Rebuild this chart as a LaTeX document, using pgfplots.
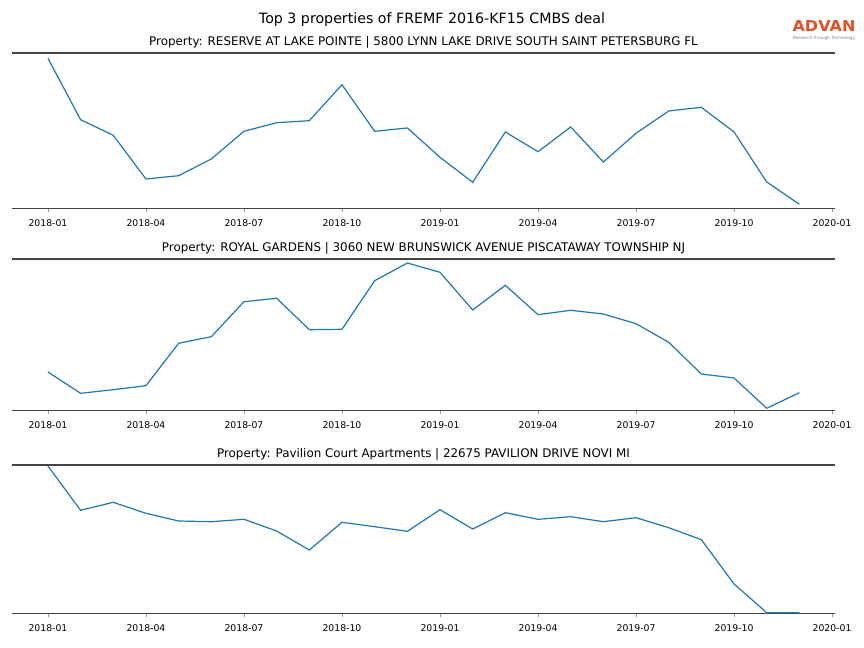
\documentclass[border=0pt]{standalone}
\usepackage{fontspec}
\setmainfont{DejaVu Sans}
\usepackage{pgfplots}
\pgfplotsset{compat=1.18}

\definecolor{mplblue}{HTML}{1F77B4}
\definecolor{spine}{RGB}{68,68,68}
\definecolor{advan}{RGB}{226,82,40}

\pgfplotsset{
  panel/.style={
    scale only axis,
    width=823bp,
    anchor=south west,
    xmin=-1.1, xmax=24.09,
    ymin=0,
    separate axis lines,
    y axis line style={draw=none},
    x axis line style={draw=spine, line width=1.5bp},
    ytick=\empty,
    xtick={0,3,...,24},
    xticklabels={2018-01,2018-04,2018-07,2018-10,2019-01,2019-04,2019-07,2019-10,2020-01},
    xtick pos=bottom,
    tick align=outside,
    major tick length=3.5bp,
    tick style={draw=gray!80, line width=0.6bp},
    xticklabel style={font=\fontsize{9.3bp}{11bp}\selectfont, yshift=-3.5bp},
    every axis title/.style={font=\fontsize{11.9bp}{14bp}\selectfont, at={(0.5,1)}, anchor=base, inner sep=0pt, yshift=7.5bp},
    /pgf/number format/assume math mode=true,
    clip=false,
  },
  series/.style={mplblue, line width=1.2bp, mark=none},
}

\begin{document}
\begin{tikzpicture}
\useasboundingbox (0,0) rectangle (864bp,648bp);

\node[anchor=base, font=\fontsize{14.2bp}{17bp}\selectfont] at (432bp,624bp)
  {Top 3 properties of FREMF 2016-KF15 CMBS deal};

\node[advan, font=\fontsize{15bp}{17bp}\selectfont\bfseries, xscale=1.07, inner sep=0pt] at (824bp,621.7bp) {ADVAN};
\node[gray, font=\fontsize{4.2bp}{5bp}\selectfont, inner sep=0pt] at (824bp,610bp) {Research through Technology};

% panel 1
\begin{axis}[panel, at={(12bp,439.3bp)}, height=155.7bp, ymax=155.7,
  title={Property: RESERVE AT LAKE POINTE | 5800 LYNN LAKE DRIVE SOUTH SAINT PETERSBURG FL}]
\addplot[series] coordinates {
(0,150.4) (1,89.0) (2,73.4) (3,29.7) (4,33.0) (5,49.7) (6,77.4) (7,86.0)
(8,88.0) (9,124.0) (10,77.4) (11,80.7) (12,51.4) (13,26.4) (14,76.7) (15,57.0)
(16,81.7) (17,46.7) (18,75.4) (19,97.7) (20,101.4) (21,76.7) (22,26.7) (23,4.4)};
\end{axis}

% panel 2
\begin{axis}[panel, at={(12bp,237.3bp)}, height=151.7bp, ymax=151.7,
  title={Property: ROYAL GARDENS | 3060 NEW BRUNSWICK AVENUE PISCATAWAY TOWNSHIP NJ}]
\addplot[series] coordinates {
(0,38.7) (1,17.4) (2,21.0) (3,25.0) (4,67.4) (5,74.0) (6,109.0) (7,112.4)
(8,81.0) (9,81.4) (10,130.0) (11,147.7) (12,138.4) (13,100.7) (14,125.4) (15,96.0)
(16,100.4) (17,96.7) (18,87.0) (19,68.4) (20,36.7) (21,32.7) (22,2.4) (23,18.0)};
\end{axis}

% panel 3
\begin{axis}[panel, at={(12bp,34.3bp)}, height=148.7bp, ymax=148.7,
  title={Property: Pavilion Court Apartments | 22675 PAVILION DRIVE NOVI MI}]
\addplot[series] coordinates {
(0,147.7) (1,103.4) (2,111.4) (3,100.4) (4,92.7) (5,92.0) (6,94.4) (7,82.7)
(8,63.7) (9,91.4) (10,87.0) (11,82.4) (12,104.0) (13,84.7) (14,101.0) (15,94.4)
(16,97.0) (17,92.0) (18,96.0) (19,86.0) (20,74.0) (21,29.7) (22,1.0) (23,1.0)};
\end{axis}
\end{tikzpicture}
\end{document}
